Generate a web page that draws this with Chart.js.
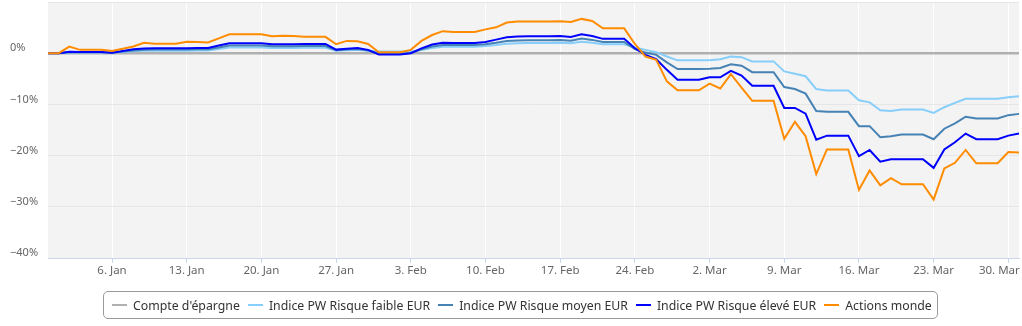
<!DOCTYPE html>
<html>
<head>
<meta charset="utf-8">
<script src="https://cdn.jsdelivr.net/npm/chart.js@4/dist/chart.umd.min.js"></script>
<style>
  html, body { margin: 0; padding: 0; background: #fff; }
  #cadre { position: relative; width: 1022px; height: 326px; }
  #legende {
    position: absolute; left: 103px; top: 291px; height: 26px;
    border: 1px solid #999; border-radius: 5px;
    display: flex; align-items: center; padding: 0 5px 0 8px;
    font-family: "Noto Sans", sans-serif; font-size: 12.3px; color: #333;
    white-space: nowrap;
  }
  .item { display: flex; align-items: center; margin-right: 8px; }
  .item:last-child { margin-right: 0; }
  .trait { width: 15px; height: 2px; margin-right: 6px; }
</style>
</head>
<body>
<div id="cadre">
  <canvas id="graphique" width="1022" height="326"></canvas>
  <div id="legende"></div>
</div>
<script>
// Séries (en %), un point par jour du 31 déc. 2019 au 31 mars 2020
const nomsSeries = ["Compte d'épargne", 'Indice PW Risque faible EUR', 'Indice PW Risque moyen EUR', 'Indice PW Risque élevé EUR', 'Actions monde'];
const couleurs = ['#b0b0b0', '#87cefa', '#4682b4', '#0000ff', '#ff8c00'];

const compteEpargne = [
  0, 0, 0, 0, 0, 0,
  0, 0, 0, 0, 0, 0, 0,
  0, 0, 0, 0, 0, 0, 0,
  0, 0, 0, 0, 0, 0, 0,
  0, 0, 0, 0, 0, 0, 0,
  0, 0, 0, 0, 0, 0, 0,
  0, 0, 0, 0, 0, 0, 0,
  0, 0, 0, 0, 0, 0, 0,
  0, 0, 0, 0, 0, 0, 0,
  0, 0, 0, 0, 0, 0, 0,
  0, 0, 0, 0, 0, 0, 0,
  0, 0, 0, 0, 0, 0, 0,
  0, 0, 0, 0, 0, 0, 0,
  0, 0
];
const risqueFaible = [
  0, 0, 0.15, 0.15, 0.15, 0.15,
  0.1, 0.25, 0.4, 0.5, 0.5, 0.5, 0.5,
  0.5, 0.55, 0.55, 0.8, 1.1, 1.1, 1.1,
  1.1, 1.0, 1.0, 1.0, 1.05, 1.05, 1.05,
  0.5, 0.6, 0.65, 0.5, 0.35, 0.35, 0.35,
  0.35, 0.6, 1.0, 1.25, 1.25, 1.25, 1.25,
  1.4, 1.6, 1.85, 1.95, 2.0, 2.0, 2.0,
  2.05, 1.95, 2.25, 2.05, 1.75, 1.75, 1.75,
  1.1, 0.65, 0.2, -0.65, -1.4, -1.4, -1.4,
  -1.4, -1.17, -0.65, -0.78, -1.6, -1.6, -1.6,
  -3.55, -4.0, -4.5, -7.0, -7.3, -7.3, -7.3,
  -9.2, -9.6, -11.15, -11.3, -11.0, -11.0, -11.0,
  -11.65, -10.55, -9.7, -8.9, -8.9, -8.9, -8.9,
  -8.6, -8.4
];
const risqueMoyen = [
  0, 0, 0.2, 0.2, 0.2, 0.2,
  0.1, 0.35, 0.55, 0.65, 0.7, 0.7, 0.7,
  0.7, 0.75, 0.75, 1.1, 1.5, 1.5, 1.5,
  1.5, 1.35, 1.35, 1.35, 1.4, 1.4, 1.4,
  0.6, 0.7, 0.8, 0.55, -0.1, -0.1, -0.1,
  0.05, 0.75, 1.3, 1.6, 1.6, 1.6, 1.6,
  1.75, 2.05, 2.4, 2.5, 2.55, 2.55, 2.55,
  2.6, 2.45, 2.85, 2.6, 2.2, 2.2, 2.2,
  0.78, 0.12, -0.33, -1.8, -3.1, -3.1, -3.1,
  -3.05, -2.9, -2.15, -2.45, -3.7, -3.7, -3.7,
  -6.6, -7.0, -7.9, -11.3, -11.45, -11.45, -11.45,
  -14.25, -14.25, -16.4, -16.2, -15.9, -15.9, -15.9,
  -16.8, -14.75, -13.7, -12.4, -12.75, -12.75, -12.75,
  -12.1, -11.85
];
const risqueEleve = [
  0, 0, 0.3, 0.25, 0.25, 0.25,
  0.1, 0.45, 0.75, 0.9, 0.95, 0.95, 0.95,
  0.95, 1.0, 1.0, 1.5, 1.95, 1.95, 1.95,
  1.95, 1.75, 1.75, 1.75, 1.8, 1.8, 1.8,
  0.7, 0.85, 1.0, 0.65, -0.25, -0.25, -0.25,
  0.0, 0.95, 1.7, 2.05, 2.0, 2.0, 2.0,
  2.2, 2.65, 3.1, 3.25, 3.3, 3.3, 3.3,
  3.35, 3.15, 3.7, 3.35, 2.8, 2.8, 2.8,
  0.97, -0.33, -1.17, -3.25, -5.2, -5.2, -5.2,
  -4.7, -4.7, -3.45, -4.35, -6.35, -6.35, -6.35,
  -10.7, -10.7, -11.8, -16.9, -16.1, -16.1, -16.1,
  -20.1, -18.9, -21.2, -20.7, -20.7, -20.7, -20.7,
  -22.4, -18.8, -17.4, -15.7, -16.8, -16.8, -16.8,
  -16.1, -15.7
];
const actionsMonde = [
  0, 0, 1.3, 0.65, 0.65, 0.65,
  0.45, 0.85, 1.3, 2.05, 1.85, 1.85, 1.85,
  2.25, 2.2, 2.1, 2.9, 3.7, 3.7, 3.7,
  3.7, 3.3, 3.4, 3.35, 3.2, 3.2, 3.2,
  1.75, 2.4, 2.35, 1.8, 0.2, 0.2, 0.2,
  0.65, 2.4, 3.55, 4.3, 4.15, 4.15, 4.15,
  4.65, 5.05, 6.0, 6.2, 6.2, 6.2, 6.2,
  6.25, 6.1, 6.7, 6.3, 4.85, 4.85, 4.85,
  1.8, -0.65, -1.3, -5.5, -7.25, -7.25, -7.25,
  -5.95, -6.9, -4.1, -6.7, -9.3, -9.3, -9.3,
  -16.7, -13.4, -16.2, -23.6, -18.8, -18.8, -18.8,
  -26.7, -22.9, -25.8, -24.4, -25.6, -25.6, -25.6,
  -28.6, -22.5, -21.4, -18.9, -21.5, -21.5, -21.5,
  -19.3, -19.4
];

const etiquettesX = ['6. Jan', '13. Jan', '20. Jan', '27. Jan', '3. Feb', '10. Feb', '17. Feb', '24. Feb', '2. Mar', '9. Mar', '16. Mar', '23. Mar', '30. Mar'];
const valeursY = [10, 0, -10, -20, -30, -40];
const etiquettesY = ['', '0%', '−10%', '−20%', '−30%', '−40%'];

// Jours (catégories)
const moisCourts = ['Jan', 'Feb', 'Mar', 'Apr', 'May', 'Jun', 'Jul', 'Aug', 'Sep', 'Oct', 'Nov', 'Dec'];
const jours = [];
for (let i = 0; i < actionsMonde.length; i++) {
  const d = new Date(2019, 11, 31 + i);
  jours.push(d.getDate() + '. ' + moisCourts[d.getMonth()]);
}

const valeursSeries = [compteEpargne, risqueFaible, risqueMoyen, risqueEleve, actionsMonde];

// Fond gris de la zone de tracé
const fondZone = {
  id: 'fondZone',
  beforeDraw(chart) {
    const { ctx, chartArea } = chart;
    ctx.save();
    ctx.fillStyle = '#f3f3f3';
    ctx.fillRect(chartArea.left, chartArea.top, chartArea.right - chartArea.left, chartArea.bottom - chartArea.top);
    ctx.restore();
  }
};

const ctx = document.getElementById('graphique').getContext('2d');
new Chart(ctx, {
  type: 'line',
  data: {
    labels: jours,
    datasets: nomsSeries.map((nom, i) => ({
      label: nom,
      data: valeursSeries[i],
      borderColor: couleurs[i],
      backgroundColor: couleurs[i],
      borderWidth: i === 0 ? 2.5 : 2,
      pointRadius: 0,
      tension: 0,
      fill: false,
      order: nomsSeries.length - i
    }))
  },
  options: {
    responsive: false,
    animation: false,
    layout: { padding: { left: 10, right: 3, top: 2, bottom: 40 } },
    plugins: {
      legend: { display: false },
      tooltip: { enabled: false }
    },
    scales: {
      x: {
        type: 'category',
        offset: false,
        grid: { color: '#ffffff', tickColor: '#ccd6eb', tickLength: 5, offset: false },
        border: { color: '#ccd6eb' },
        ticks: {
          autoSkip: false,
          maxRotation: 0,
          padding: 1,
          color: '#666666',
          font: { family: 'Noto Sans', size: 11.5 },
          // la dernière étiquette est décalée vers la gauche pour rester visible
          callback: (v, i, ticks) => {
            const txt = jours[v];
            return i === ticks.length - 1 ? txt + '\u00a0'.repeat(6) : txt;
          }
        },
        afterBuildTicks: (scale) => {
          scale.ticks = scale.ticks.filter(t => etiquettesX.includes(jours[t.value]));
        },
        afterFit: (scale) => {
          scale.height = 28;
          scale.paddingLeft = 0;
          scale.paddingRight = 0;
        }
      },
      y: {
        min: -40,
        max: 10,
        afterBuildTicks: (scale) => {
          scale.ticks = valeursY.map(v => ({ value: v }));
        },
        grid: { color: '#e6e6e6', drawTicks: false },
        border: { display: false },
        ticks: {
          crossAlign: 'far',
          labelOffset: -5,
          color: '#666666',
          font: { family: 'Noto Sans', size: 11 },
          callback: (v) => etiquettesY[valeursY.indexOf(v)]
        },
        afterFit: (scale) => {
          scale.width = 38;
          scale.paddingTop = 0;
          scale.paddingBottom = 0;
        }
      }
    }
  },
  plugins: [fondZone]
});

// Légende
const legende = document.getElementById('legende');
nomsSeries.forEach((nom, i) => {
  const item = document.createElement('div');
  item.className = 'item';
  const trait = document.createElement('span');
  trait.className = 'trait';
  trait.style.background = couleurs[i];
  const texte = document.createElement('span');
  texte.textContent = nom;
  item.appendChild(trait);
  item.appendChild(texte);
  legende.appendChild(item);
});
</script>
</body>
</html>
